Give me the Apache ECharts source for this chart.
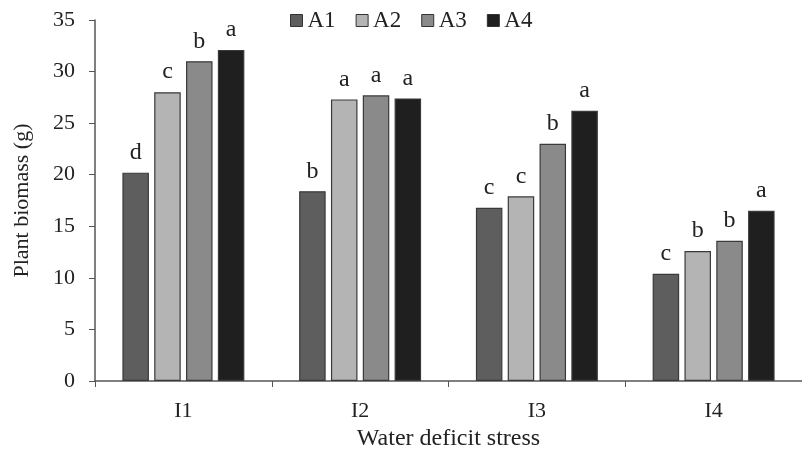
<!DOCTYPE html>
<html><head><meta charset="utf-8">
<script src="https://cdn.jsdelivr.net/npm/echarts@6/dist/echarts.min.js"></script>
<style>html,body{margin:0;padding:0;background:#fff}#c{width:802px;height:459px}</style>
</head><body><div id="c"></div>
<script>
const categories = ['I1','I2','I3','I4'];
const seriesNames = ['A1','A2','A3','A4'];
const A1 = [20.2, 18.4, 16.8, 10.4];
const A2 = [28.0, 27.3, 17.9, 12.6];
const A3 = [31.0, 27.7, 23.0, 13.6];
const A4 = [32.1, 27.4, 26.2, 16.5];
const L1 = ['d','b','c','c'];
const L2 = ['c','a','c','b'];
const L3 = ['b','a','b','b'];
const L4 = ['a','a','a','a'];
const yTicks = [0,5,10,15,20,25,30,35];

const values = [A1,A2,A3,A4];
const letters = [L1,L2,L3,L4];
const colors = ['#5e5e5e','#b4b4b4','#8a8a8a','#1f1f1f'];
const font = 'Liberation Serif';

const chart = echarts.init(document.getElementById('c'));
chart.setOption({
  animation:false,
  textStyle:{fontFamily:font},
  legend:{
    top:4, left:285, itemWidth:12, itemHeight:12, itemGap:20,
    icon:'rect',
    textStyle:{fontFamily:font,fontSize:23,color:'#222'},
    data:seriesNames.map((n,i)=>({name:n,itemStyle:{borderColor:'#333',borderWidth:1}}))
  },
  grid:{left:95, top:20, width:716, bottom:78},
  xAxis:{
    type:'category', data:categories,
    name:'Water deficit stress', nameLocation:'middle', nameGap:46,
    nameTextStyle:{fontFamily:font,fontSize:24,color:'#222'},
    axisLine:{lineStyle:{color:'#555',width:1.5}},
    axisTick:{show:true, inside:false, length:6, lineStyle:{color:'#555'}},
    axisLabel:{fontFamily:font,fontSize:22,color:'#222',margin:19}
  },
  yAxis:{
    type:'value', min:0, max:35, interval:5,
    name:'Plant biomass (g)', nameLocation:'middle', nameGap:62,
    nameTextStyle:{fontFamily:font,fontSize:22,color:'#222'},
    axisLine:{show:true,lineStyle:{color:'#555',width:1.5}},
    axisTick:{show:true,length:6,lineStyle:{color:'#555'}},
    splitLine:{show:false},
    axisLabel:{fontFamily:font,fontSize:22,color:'#222',margin:20,
      formatter:v=>yTicks.includes(v)?String(v):''}
  },
  series:seriesNames.map((n,i)=>({
    name:n, type:'bar', barGap:'20%', barCategoryGap:'31%',
    itemStyle:{color:colors[i],borderColor:'#3a3a3a',borderWidth:1.2},
    label:{show:true,position:'top',distance:8,fontFamily:font,fontSize:24,color:'#222',
      formatter:p=>letters[i][p.dataIndex]},
    data:values[i]
  }))
});
</script></body></html>
